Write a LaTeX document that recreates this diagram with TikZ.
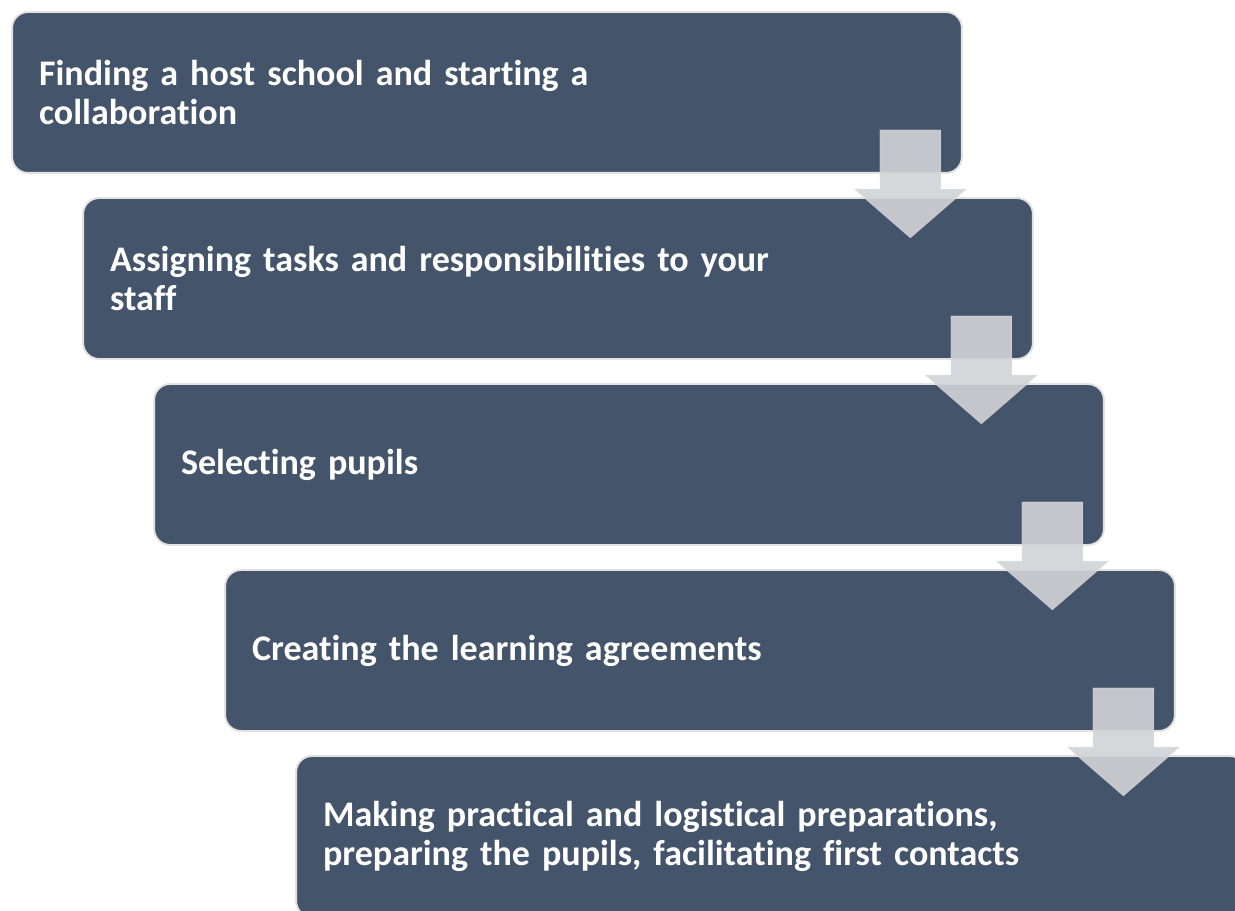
\documentclass[tikz,border=0pt]{standalone}
\usepackage{fontspec}
\setmainfont{Carlito}[Ligatures=NoCommon]
\usetikzlibrary{calc}
\definecolor{stepblue}{HTML}{44546A}
\definecolor{stepedge}{HTML}{E2E2E2}
\definecolor{arrowgray}{RGB}{210,211,215}

\begin{document}
\begin{tikzpicture}[x=0.02cm, y=0.02cm,
  stepbox/.style={rectangle, rounded corners=0.32cm, fill=stepblue, draw=stepedge,
    line width=1.1pt, minimum width=19cm, minimum height=3.22cm, text width=17.92cm,
    inner xsep=0.54cm, align=left, text=white, font=\fontsize{20.5}{22.2}\selectfont\bfseries},
  downarrow/.style={fill=arrowgray, fill opacity=0.9, draw=white, draw opacity=0.3, line width=0.4pt}]
 \useasboundingbox (0,0) rectangle (1235,911);
 \clip (0,0) rectangle (1235,911);
 % the five steps
 \node[stepbox] (b1) at (487,818.5) {Finding a host school and starting a\\collaboration};
 \node[stepbox] (b2) at ($(b1)+(71,-186)$) {Assigning tasks and responsibilities to your\\staff};
 \node[stepbox] (b3) at ($(b2)+(71,-186)$) {Selecting pupils};
 \node[stepbox] (b4) at ($(b3)+(71,-186)$) {Creating the learning agreements};
 \node[stepbox] (b5) at ($(b4)+(71,-186)$) {Making practical and logistical preparations,\\preparing the pupils, facilitating first contacts};
 % block arrows between them
 \foreach \i in {1,...,4} {
  \draw[downarrow] ($(b\i.south east)+(-83,44)$) -- ($(b\i.south east)+(-22,44)$) -- ++(0,-59)
   -- ++(26,0) -- ($(b\i.south east)+(-52.5,-64)$) -- ($(b\i.south east)+(-109,-15)$) -- ++(26,0) -- cycle;
 }
\end{tikzpicture}
\end{document}
